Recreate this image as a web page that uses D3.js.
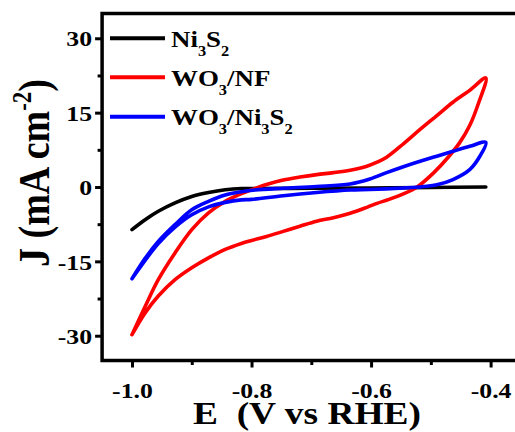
<!DOCTYPE html>
<html><head><meta charset="utf-8">
<script src="https://cdn.jsdelivr.net/npm/d3@7"></script>
<style>body{margin:0;background:#fff} svg{display:block}</style>
</head><body><svg id="c" width="515" height="432"></svg>
<script>
// ---- data ----
const seriesNames = ["Ni3S2", "WO3/NF", "WO3/Ni3S2"];
const seriesColors = ["#000000", "#ff0000", "#0000ff"];

const niE = [-1.0,-0.978,-0.956,-0.928,-0.900,-0.872,-0.844,-0.817,-0.800,-0.700,-0.600,-0.500,-0.408];
const niJ = [-8.6,-6.6,-4.9,-3.2,-1.9,-1.1,-0.55,-0.3,-0.3,-0.25,-0.2,-0.1,0.0];

const wnfE = [-1.0,-0.978,-0.956,-0.928,-0.900,-0.872,-0.844,-0.817,-0.794,-0.775,-0.747,-0.719,-0.691,-0.663,-0.635,-0.607,-0.590,-0.574,-0.546,-0.518,-0.490,-0.463,-0.435,-0.408,
              -0.420,-0.435,-0.452,-0.471,-0.495,-0.523,-0.546,-0.570,-0.590,-0.607,-0.635,-0.663,-0.691,-0.719,-0.747,-0.775,-0.800,-0.817,-0.844,-0.872,-0.900,-0.928,-0.956,-0.978,-1.0];
const wnfJ = [-29.8,-24.1,-18.7,-13.3,-8.6,-5.2,-2.9,-1.35,-0.3,0.5,1.4,2.0,2.5,2.9,3.4,4.2,5.0,6.0,8.7,11.6,14.4,17.1,19.5,22.0,
              17.0,12.4,8.9,6.0,2.9,0.0,-1.4,-2.5,-3.3,-4.1,-5.3,-6.2,-6.9,-7.9,-8.95,-10.0,-10.8,-11.4,-12.6,-14.3,-16.3,-18.7,-22.0,-25.4,-29.8];

const wnsE = [-1.0,-0.978,-0.956,-0.928,-0.900,-0.872,-0.844,-0.817,-0.794,-0.747,-0.691,-0.635,-0.602,-0.574,-0.546,-0.518,-0.490,-0.463,-0.435,-0.408,
              -0.418,-0.435,-0.463,-0.490,-0.520,-0.546,-0.602,-0.635,-0.691,-0.747,-0.800,-0.817,-0.844,-0.872,-0.900,-0.928,-0.956,-0.978,-1.0];
const wnsJ = [-18.5,-14.4,-11.0,-7.6,-4.6,-2.9,-1.6,-0.95,-0.6,-0.25,0.1,0.6,1.6,2.9,4.1,5.2,6.2,7.2,8.2,9.0,
              6.2,3.5,1.5,0.45,0.0,-0.2,-0.5,-0.6,-1.1,-1.75,-2.5,-2.6,-3.1,-4.0,-5.6,-8.1,-11.4,-14.8,-18.5];

const xMajor = [-1.0,-0.8,-0.6,-0.4];
const xTickLabels = ["-1.0","-0.8","-0.6","-0.4"];
const xMinor = [-0.9,-0.7,-0.5];
const yMajor = [30,15,0,-15,-30];
const yTickLabels = ["30","15","0","-15","-30"];
const yMinor = [22.5,7.5,-7.5,-22.5];

// ---- layout ----
const svg = d3.select("#c");
const FONT = "'Liberation Serif','Times New Roman',serif";
const SX = 1.17; // horizontal stretch of the reference
const x = d3.scaleLinear().domain([-1.05,-0.35]).range([102.1,520.5]);
const y = d3.scaleLinear().domain([-35,35]).range([360.5,13.5]);

const series = [
  {E: niE, J: niJ},
  {E: wnfE, J: wnfJ},
  {E: wnsE, J: wnsJ}
];

const line = d3.line().x(d=>x(d[0])).y(d=>y(d[1])).curve(d3.curveCatmullRom.alpha(0.5));

const plot = svg.append("g");
plot.append("clipPath").attr("id","clip").append("rect")
  .attr("x",x.range()[0]).attr("y",y.range()[1])
  .attr("width",x.range()[1]-x.range()[0]).attr("height",y.range()[0]-y.range()[1]);

[0,1,2].forEach(i=>{
  const s = series[i];
  const pts = s.E.map((e,k)=>[e, s.J[k]]);
  plot.append("path").attr("d", line(pts))
    .attr("fill","none").attr("stroke", seriesColors[i])
    .attr("stroke-width",3.6).attr("stroke-linejoin","round").attr("stroke-linecap","round")
    .attr("clip-path","url(#clip)");
});

// frame
svg.append("rect").attr("x",x.range()[0]).attr("y",y.range()[1])
  .attr("width",x.range()[1]-x.range()[0]).attr("height",y.range()[0]-y.range()[1])
  .attr("fill","none").attr("stroke","#000").attr("stroke-width",3.5);

// axes
const xAxis = svg.append("g").attr("transform",`translate(0,${y.range()[0]})`)
  .call(d3.axisBottom(x).tickValues(xMajor).tickSize(7).tickSizeOuter(0).tickFormat((d,i)=>xTickLabels[i]));
const xMin = svg.append("g").attr("transform",`translate(0,${y.range()[0]})`)
  .call(d3.axisBottom(x).tickValues(xMinor).tickSize(4.5).tickSizeOuter(0).tickFormat(""));
const yAxis = svg.append("g").attr("transform",`translate(${x.range()[0]},0)`)
  .call(d3.axisLeft(y).tickValues(yMajor).tickSize(7).tickSizeOuter(0).tickFormat((d,i)=>yTickLabels[i]));
const yMin = svg.append("g").attr("transform",`translate(${x.range()[0]},0)`)
  .call(d3.axisLeft(y).tickValues(yMinor).tickSize(4.5).tickSizeOuter(0).tickFormat(""));

[xAxis,xMin,yAxis,yMin].forEach(g=>{
  g.select(".domain").remove();
  g.selectAll(".tick line").attr("stroke","#000").attr("stroke-width",3);
});
xAxis.selectAll(".tick text").attr("font-family",FONT).attr("font-weight","bold")
  .attr("font-size",22).attr("fill","#000").attr("y",0).attr("dy",0)
  .attr("transform",`translate(0,37) scale(${SX},1)`);
yAxis.selectAll(".tick text").attr("font-family",FONT).attr("font-weight","bold")
  .attr("font-size",22).attr("fill","#000").attr("x",0).attr("dy","0.35em")
  .attr("transform",`translate(-10,0) scale(${SX},1)`);

// axis titles
svg.append("text").attr("font-family",FONT).attr("font-weight","bold").attr("font-size",32)
  .attr("text-anchor","middle").attr("transform",`translate(307,424) scale(${SX},1)`)
  .text("E\u00a0 (V vs RHE)");

const yt = svg.append("text").attr("font-family",FONT).attr("font-weight","bold").attr("font-size",38)
  .attr("text-anchor","middle").attr("transform",`translate(49,173) scale(${SX},1) rotate(-90)`);
yt.append("tspan").text("J (mA cm");
yt.append("tspan").attr("font-size",23).attr("dy",-15).text("-2");
yt.append("tspan").attr("dy",15).text(")");

// legend
const legRows = [38.3, 77.3, 116.7];
const legParts = [
  [["Ni",0],["3",1],["S",0],["2",1]],
  [["WO",0],["3",1],["/NF",0]],
  [["WO",0],["3",1],["/Ni",0],["3",1],["S",0],["2",1]]
];
legRows.forEach((ly,i)=>{
  svg.append("line").attr("x1",110).attr("x2",165).attr("y1",ly).attr("y2",ly)
    .attr("stroke",seriesColors[i]).attr("stroke-width",4);
  const t = svg.append("text").attr("font-family",FONT).attr("font-weight","bold").attr("font-size",23)
    .attr("transform",`translate(171,${ly+8.4}) scale(${SX},1)`);
  let sub = false;
  legParts[i].forEach(([s,isSub])=>{
    const ts = t.append("tspan").text(s);
    if (isSub && !sub) { ts.attr("font-size",14).attr("dy",9); sub = true; }
    else if (isSub && sub) { ts.attr("font-size",14); }
    else if (!isSub && sub) { ts.attr("dy",-9); sub = false; }
  });
});
</script></body></html>
